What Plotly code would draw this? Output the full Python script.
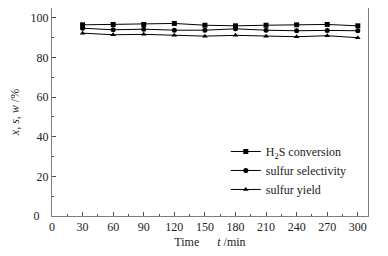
import plotly.graph_objects as go

time_min = [30, 60, 90, 120, 150, 180, 210, 240, 270, 300]
h2s_conversion = [96.5, 96.7, 96.7, 97.2, 96.3, 96.0, 96.3, 96.5, 96.7, 96.0]
sulfur_selectivity = [94.8, 94.0, 94.3, 93.8, 93.8, 94.5, 93.8, 93.5, 93.7, 93.5]
sulfur_yield = [92.3, 91.5, 91.7, 91.3, 90.8, 91.2, 90.8, 90.5, 91.0, 90.0]

series_names = ["H<sub>2</sub>S conversion", "sulfur selectivity", "sulfur yield"]
series_symbols = ["square", "circle", "triangle-up"]
x_ticks = [0, 30, 60, 90, 120, 150, 180, 210, 240, 270, 300]
y_ticks = [0, 20, 40, 60, 80, 100]
y_tick_text = ["0\u00a0\u00a0\u00a0", "20", "40", "60", "80", "100"]

font_family = "Liberation Serif"
text_color = "#222222"
fig = go.Figure()
for name, vals, sym in zip(series_names, [h2s_conversion, sulfur_selectivity, sulfur_yield], series_symbols):
    fig.add_trace(go.Scatter(
        x=time_min, y=vals, name=name, mode="lines+markers",
        line=dict(color="black", width=1),
        marker=dict(symbol=sym, size=5, color="black"),
    ))

axis_common = dict(
    showline=True, linecolor="#7f7f7f", linewidth=1, mirror=True,
    showgrid=False, zeroline=False, ticks="inside", ticklen=4,
    tickcolor="#4d4d4d", tickfont=dict(family=font_family, size=12, color=text_color),
)
# The page body has an 8px default margin, so the figure is sized to fit the window.
fig.update_layout(
    width=380, height=248,
    margin=dict(l=44, r=20, t=0, b=40),
    paper_bgcolor="white", plot_bgcolor="white",
    font=dict(family=font_family, size=12, color=text_color),
    xaxis=dict(range=[0, 310], tickvals=x_ticks, ticktext=[str(v) for v in x_ticks],
               minor=dict(ticks="inside", ticklen=2, dtick=15, tickcolor="#4d4d4d"),
               title=dict(text="Time\u2003\u00a0\u00a0<i>t</i> /min", font=dict(family=font_family, size=12, color=text_color), standoff=4),
               automargin=False,
               **axis_common),
    yaxis=dict(range=[0, 105], tickvals=y_ticks, ticktext=y_tick_text,
               minor=dict(ticks="inside", ticklen=2, dtick=10, tickcolor="#4d4d4d"),
               title=dict(text="<i>x</i>, <i>s</i>, <i>w</i> /%", font=dict(family=font_family, size=12, color=text_color), standoff=10),
               automargin=False,
               **axis_common),
    legend=dict(x=0.55, y=0.38, xanchor="left", yanchor="top",
                bgcolor="rgba(0,0,0,0)", font=dict(family=font_family, size=12, color=text_color),
                itemwidth=30, tracegroupgap=0),
    showlegend=True,
)
fig.write_html("out.html")
